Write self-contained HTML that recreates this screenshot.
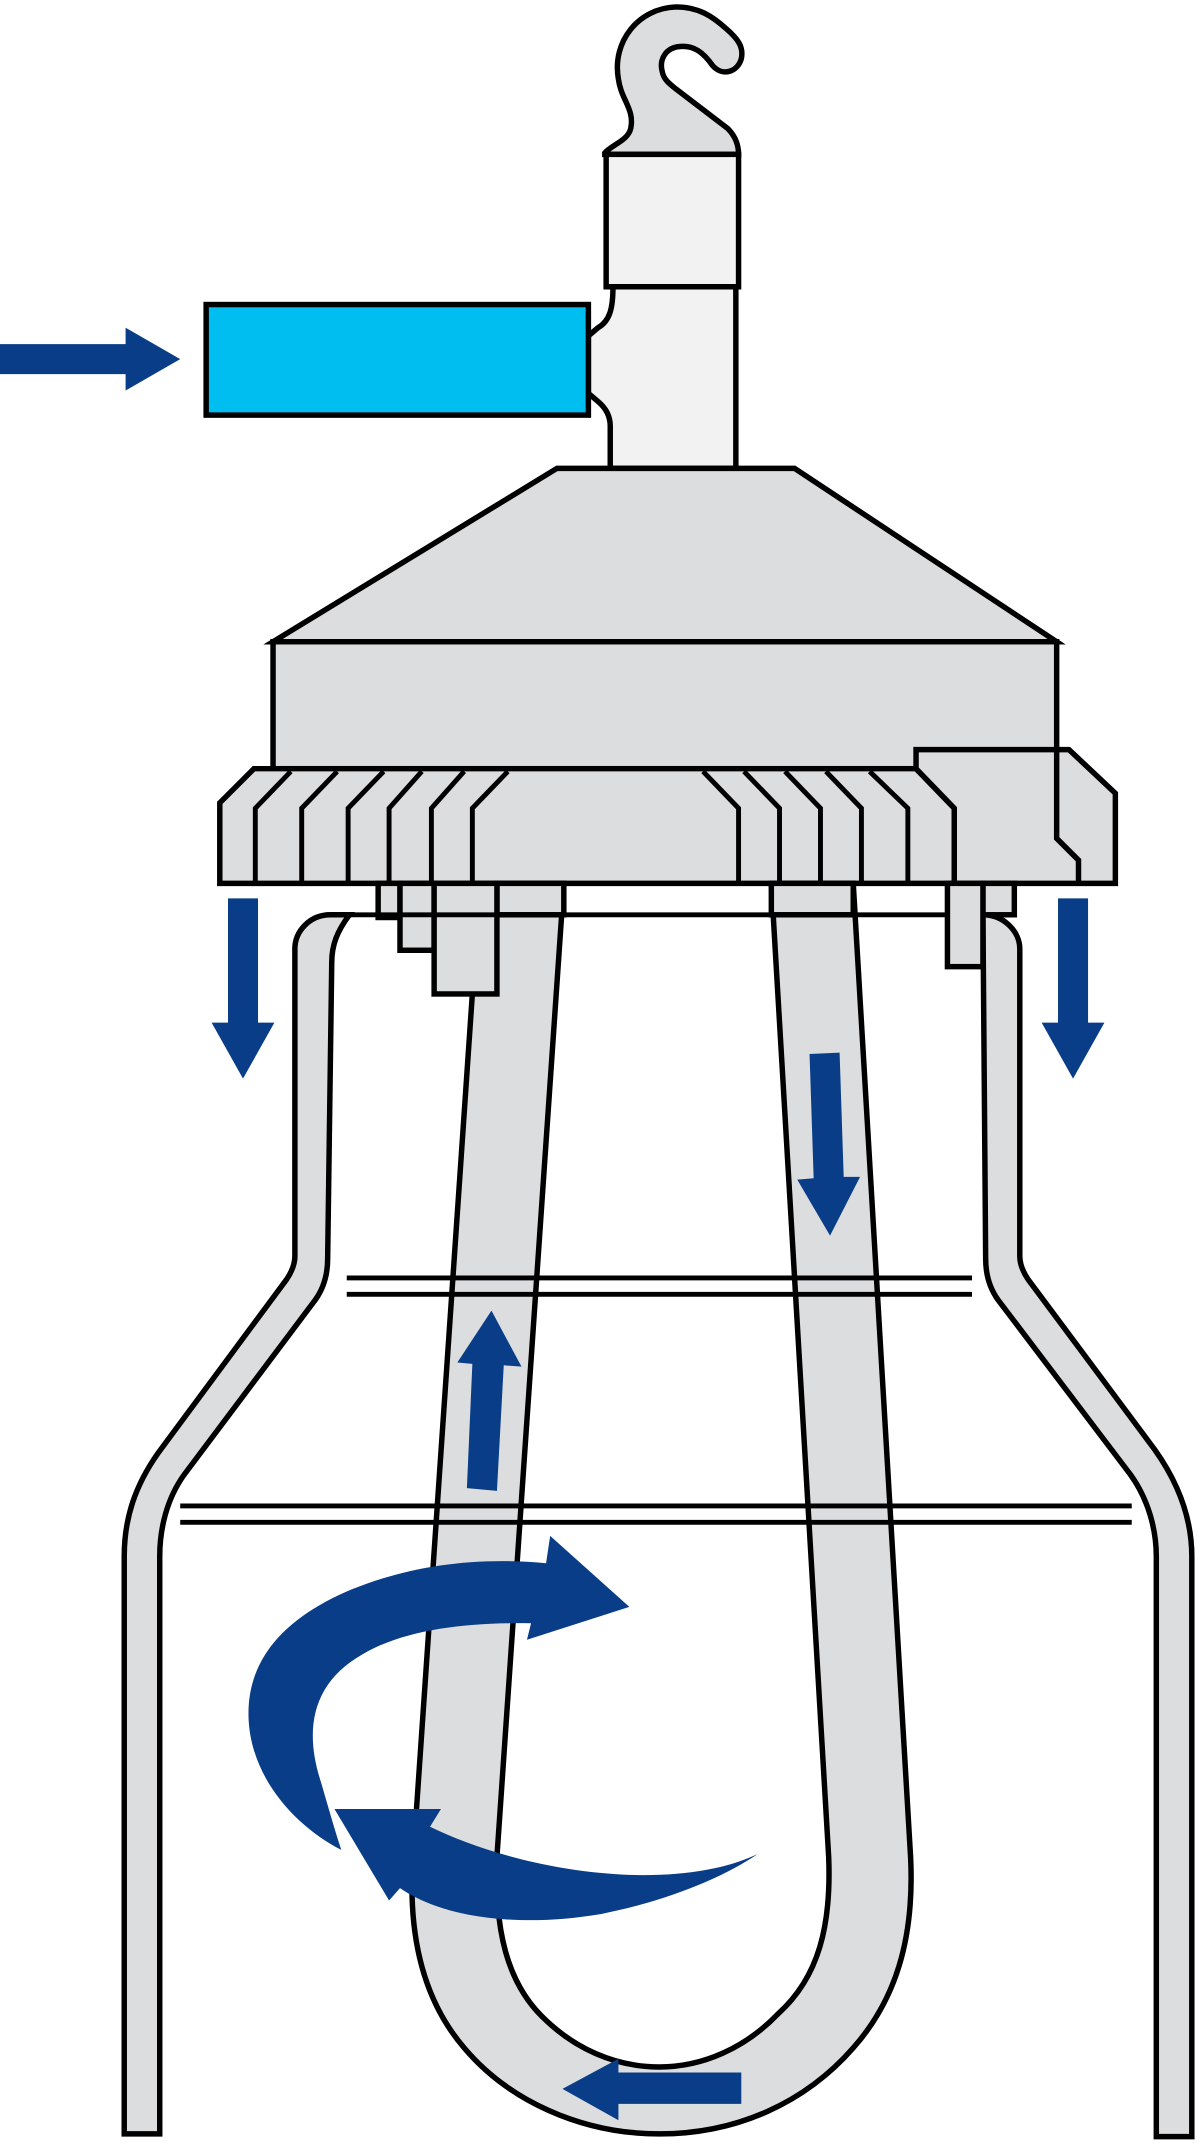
<!DOCTYPE html>
<html><head><meta charset="utf-8"><style>html,body{margin:0;padding:0;background:#fff}svg{display:block}</style></head>
<body>
<svg width="1200" height="2149" viewBox="0 0 879 1574" xmlns="http://www.w3.org/2000/svg">
<g stroke="#000" stroke-width="4" stroke-linejoin="miter" fill="#dcdddf">
<path d="M443,113 L443,112 C448,106 460,103 462,94 C465,80 455,73 453,58 C448,30 468,6 495,5 C512,5 522,12 532,21 C540,28 545,34 543,43 C540,53 529,56 522,48 C515,38 508,33 498,34 C487,35 483,44 485,52 C486,58 490,61 495,65 L533,94 C538,99 541,105 541,113 Z"/>
<rect x="444" y="113" width="97" height="97" fill="#f2f2f2"/>
<path d="M449,210 C449,225 447,235 438,240 L431,246 L431,288 L438,294 C444,299 447,305 447,312 L447,343 L539,343 L539,210 Z" fill="#f2f2f2"/>
<rect x="151" y="223" width="280" height="81" fill="#00bef0"/>
<polygon points="408,343 582,343 774,470 200,470"/>
<rect x="200" y="470" width="574" height="93"/>
<polygon points="186,563 671,563 699,592 699,647 161,647 161,588"/>
<polygon points="671,563 671,549 783,549 817,581 817,647 699,647 699,592"/>
<polyline fill="none" points="774,549 774,614 790,630 790,647"/>
</g>
<g stroke="#000" stroke-width="3.6" fill="none">
<polyline points="213,565 187,592 187,647"/>
<polyline points="247,565 221,592 221,647"/>
<polyline points="281,565 255,592 255,647"/>
<polyline points="309,565 285,592 285,647"/>
<polyline points="340,565 316,592 316,647"/>
<polyline points="372,565 346,592 346,647"/>
<polyline points="515,565 541,592 541,647"/>
<polyline points="545,565 571,592 571,647"/>
<polyline points="575,565 601,592 601,647"/>
<polyline points="605,565 631,592 631,647"/>
<polyline points="637,565 665,592 665,647"/>
</g>
<g stroke="#000" stroke-width="4" fill="#dcdddf">
<path d="M256,670 C247,682 243,692 243,705 L240,922 C240,935 236,945 231,952 L135,1080 C122,1098 117,1120 117,1140 L117,1563 L91,1563 L91,1140 C91,1112 99,1088 116,1064 L210,937 C214,931 216,926 216,920 L216,695 C216,682 227,670 242,670 Z"/>
<path d="M720,670 C735,670 747,682 747,695 L747,920 C747,926 749,931 753,937 L846,1062 C863,1086 873,1112 873,1140 L873,1565 L847,1565 L847,1140 C847,1120 841,1098 828,1080 L731,952 C726,945 722,935 722,922 L720,670 Z"/>
<path d="M346,728 L302,1370 C300,1420 310,1465 340,1500 C372,1538 425,1563 483,1563 C540,1563 590,1540 625,1500 C656,1465 670,1420 667,1360 L625,647 L565,647 L607,1360 C609,1410 600,1448 570,1475 C546,1500 515,1514 483,1514 C450,1514 420,1500 397,1477 C372,1452 362,1415 364,1360 L413,647 L364,647 Z"/>
<rect x="364" y="647" width="49" height="23"/>
<rect x="565" y="647" width="60" height="23"/>
<rect x="277" y="647" width="16" height="25"/>
<rect x="293" y="647" width="25" height="49"/>
<rect x="318" y="647" width="46" height="81"/>
<rect x="720" y="647" width="23" height="23"/>
<rect x="694" y="647" width="26" height="61"/>
</g>
<g stroke="#000" stroke-width="3.6" fill="none">
<line x1="242" y1="670" x2="694" y2="670"/>
<line x1="254" y1="936" x2="712" y2="936"/>
<line x1="254" y1="948" x2="712" y2="948"/>
<line x1="132" y1="1103" x2="829" y2="1103"/>
<line x1="132" y1="1115" x2="829" y2="1115"/>
</g>
<g fill="#0a3d87">
<polygon points="0,252 92,252 92,240 132,263 92,286 92,274 0,274"/>
<polygon points="167,658 189,658 189,749 201,749 178,790 155,749 167,749"/>
<polygon points="775,658 797,658 797,749 809,749 786,790 763,749 775,749"/>
<polygon points="593,772 615,771 618,862 630,862 608,905 584,864 596,863"/>
<polygon points="360,960 382,1001 369,1000 364,1092 342,1090 346,999 335,998"/>
<polygon points="543,1518 543,1541 453,1541 453,1553 412,1530 453,1508 453,1518"/>
<path d="M250,1355 C215,1337 182,1300 182,1255 C182,1210 215,1182 258,1164 C300,1147 348,1140 400,1145 L403,1125 L461,1177 L386,1201 L389,1189 C340,1188 295,1194 265,1212 C230,1232 222,1265 235,1305 C240,1322 245,1340 250,1355 Z"/>
<path d="M245,1325 L323,1325 L315,1338 C350,1355 400,1370 455,1373 C495,1375 530,1370 555,1358 C530,1375 490,1392 440,1402 C380,1412 325,1405 293,1383 L285,1392 Z"/>
</g>
</svg>
</body></html>
